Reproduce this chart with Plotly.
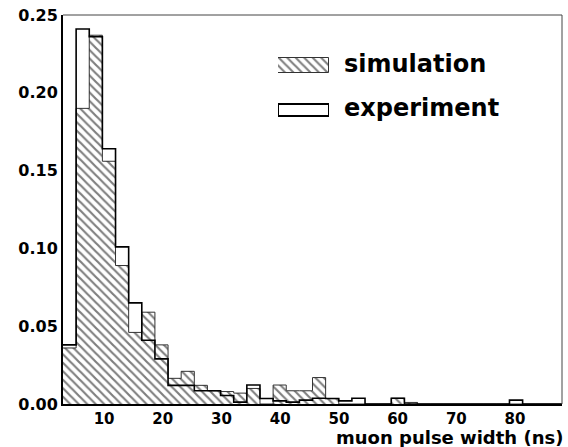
import plotly.graph_objects as go
import numpy as np

# ---- data ----
x_min = 3.0
x_max = 88.0
n_bins = 38
sim_values = [0.036, 0.190, 0.237, 0.156, 0.089, 0.046, 0.059, 0.038, 0.0165, 0.021,
              0.012, 0.0085, 0.008, 0.007, 0.010, 0.0, 0.0122, 0.0085, 0.0085, 0.017,
              0.0035, 0.0, 0.0, 0.0, 0.0, 0.0037, 0.001, 0.0, 0.0, 0.0,
              0.0, 0.0, 0.0, 0.0, 0.0, 0.0, 0.0, 0.0]
exp_values = [0.038, 0.241, 0.236, 0.164, 0.101, 0.065, 0.041, 0.029, 0.012, 0.012,
              0.0085, 0.0085, 0.0055, 0.0012, 0.0122, 0.0035, 0.002, 0.0012, 0.0025, 0.0037,
              0.0035, 0.002, 0.0037, 0.0, 0.0, 0.0037, 0.0, 0.0, 0.0, 0.0,
              0.0, 0.0, 0.0, 0.0, 0.0025, 0.0, 0.0, 0.0]
x_tick_vals = [10, 20, 30, 40, 50, 60, 70, 80]
x_tick_text = ["10", "20", "30", "40", "50", "60", "70", "80"]
y_tick_vals = [0.0, 0.05, 0.10, 0.15, 0.20, 0.25]
y_tick_text = ["0.00", "0.05", "0.10", "0.15", "0.20", "0.25"]
legend_labels = ["simulation", "experiment"]
x_title = "muon pulse width (ns)"

edges = np.linspace(x_min, x_max, n_bins + 1)
centers = 0.5 * (edges[:-1] + edges[1:])
width = edges[1] - edges[0]

FONT = "DejaVu Sans"
W, H = 568, 447
ML, MR, MT, MB = 63, 6, 15, 43
PW, PH = W - ML - MR, H - MT - MB


def px_x(p):
    return (p - ML) / PW


def px_y(p):
    return (MT + PH - p) / PH


HATCH = dict(shape="\\", size=6, solidity=0.36, fgcolor="black", bgcolor="white")

fig = go.Figure()

# simulation: hatched bars
fig.add_trace(go.Bar(
    x=centers, y=sim_values, width=width,
    marker=dict(color="white", line=dict(width=0), pattern=HATCH),
    showlegend=False, hoverinfo="skip"))

# simulation outline (step)
fig.add_trace(go.Scatter(
    x=list(edges), y=list(sim_values) + [sim_values[-1]],
    mode="lines", line=dict(shape="hv", color="#333333", width=1),
    showlegend=False, hoverinfo="skip"))

# experiment outline (step)
fig.add_trace(go.Scatter(
    x=list(edges), y=list(exp_values) + [exp_values[-1]],
    mode="lines", line=dict(shape="hv", color="black", width=1.6),
    showlegend=False, hoverinfo="skip"))

# legend swatches on an overlay axis
fig.add_trace(go.Bar(
    y=[65], x=[1], base=[0], width=[15], orientation="h",
    marker=dict(color="white", line=dict(width=1, color="#333333"), pattern=HATCH),
    xaxis="x2", yaxis="y2", showlegend=False, hoverinfo="skip"))
fig.add_trace(go.Bar(
    y=[110], x=[1], base=[0], width=[12], orientation="h",
    marker=dict(color="white", line=dict(width=2, color="black")),
    xaxis="x2", yaxis="y2", showlegend=False, hoverinfo="skip"))

fig.update_layout(
    width=W, height=H,
    margin=dict(l=ML, r=MR, t=MT, b=MB),
    paper_bgcolor="white", plot_bgcolor="white",
    barmode="overlay", bargap=0,
    font=dict(family=FONT, color="black"),
    xaxis=dict(range=[x_min, x_max], tickvals=x_tick_vals, ticktext=x_tick_text,
               showgrid=False, zeroline=False, showline=True, linecolor="black",
               linewidth=2, ticks="", tickfont=dict(family=FONT, size=15, color="black",
                                                     weight="bold")),
    yaxis=dict(range=[0, 0.25], tickvals=y_tick_vals, ticktext=y_tick_text,
               showgrid=False, zeroline=False, showline=True, linecolor="black",
               linewidth=2, ticks="", tickfont=dict(family=FONT, size=16, color="black",
                                                     weight="bold")),
    xaxis2=dict(domain=[px_x(278), px_x(329)], range=[0, 1], anchor="y2",
                visible=False, fixedrange=True),
    yaxis2=dict(domain=[px_y(140), px_y(40)], range=[140, 40], anchor="x2",
                visible=False, fixedrange=True),
    shapes=[
        dict(type="line", xref="paper", yref="paper", x0=0, x1=1, y0=1, y1=1,
             line=dict(color="#444444", width=1)),
        dict(type="line", xref="paper", yref="paper", x0=1, x1=1, y0=0, y1=1,
             line=dict(color="#444444", width=1)),
    ],
    annotations=[
        dict(text=legend_labels[0], xref="paper", yref="paper", x=px_x(342), y=px_y(64),
             xanchor="left", yanchor="middle", showarrow=False,
             font=dict(family=FONT, size=24, color="black", weight="bold")),
        dict(text=legend_labels[1], xref="paper", yref="paper", x=px_x(342), y=px_y(108),
             xanchor="left", yanchor="middle", showarrow=False,
             font=dict(family=FONT, size=24, color="black", weight="bold")),
        dict(text=x_title, xref="paper", yref="paper", x=px_x(565), y=px_y(437),
             xanchor="right", yanchor="middle", showarrow=False,
             font=dict(family=FONT, size=18, color="black", weight="bold")),
    ],
)

fig.write_html("out.html")
